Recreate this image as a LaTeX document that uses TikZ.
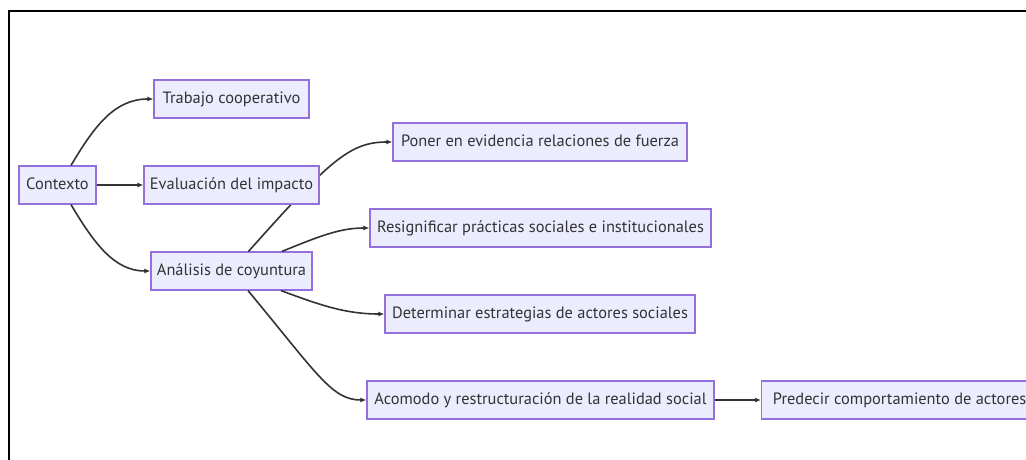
\documentclass[tikz,border=0pt]{standalone}
\usepackage{fontspec}
\setmainfont{PT Sans}
\usetikzlibrary{arrows.meta,calc}
\definecolor{nodefill}{HTML}{ECECFF}
\definecolor{nodeline}{HTML}{9370DB}
\definecolor{ink}{HTML}{333333}
\tikzset{
  box/.style={draw=nodeline, fill=nodefill, line width=1.2pt, text=ink,
    minimum height=38pt, inner sep=0pt, text height=11.5pt, text depth=3.5pt,
    font=\fontsize{16.4}{19}\selectfont},
  conn/.style={draw=ink, line width=1.6pt, -{Latex[length=6pt,width=5pt]}},
  frame/.style={draw=black, line width=2.2pt}
}
\begin{document}
\begin{tikzpicture}[x=1pt,y=-1pt]
\useasboundingbox (0,0) rectangle (1026,460);
\clip (0,0) rectangle (1026,460);
\fill[white] (0,0) rectangle (1026,460);
\draw[frame] (9,470) -- (9,11) -- (1030,11);
% nodes
\node[box, minimum width=77pt]  (ctx)   at (57.5,185) {Contexto};
\node[box, minimum width=155pt] (trab)  at (231.5,99) {Trabajo cooperativo};
\node[box, minimum width=175pt] (eval)  at (231.5,185) {Evaluación del impacto};
\node[box, minimum width=161pt] (ana)   at (231.5,271) {Análisis de coyuntura};
\node[box, minimum width=294pt] (poner) at (540,142)  {Poner en evidencia relaciones de fuerza};
\node[box, minimum width=341pt] (resig) at (540.5,228) {Resignificar prácticas sociales e institucionales};
\node[box, minimum width=310pt] (deter) at (540,314)  {Determinar estrategias de actores sociales};
\node[box, minimum width=347pt] (acom)  at (540.5,400) {Acomodo y restructuración de la realidad social};
\node[box, minimum width=276pt, anchor=west] (pred) at (761,400) {Predecir comportamiento de actores};
% connector from ana to poner runs behind eval, so eval is drawn again over it
\draw[conn] ($(ana.north)+(17,0)$) .. controls (330,160) and (350,142) .. (poner.west);
\node[box, minimum width=175pt] at (eval.center) {Evaluación del impacto};
% connectors
\draw[conn] ($(ctx.north)+(13.5,0)$) .. controls (95,125) and (115,99) .. (trab.west);
\draw[conn] (ctx.east) -- (eval.west);
\draw[conn] ($(ctx.south)+(13.5,0)$) .. controls (95,245) and (115,271) .. (ana.west);
\draw[conn] ($(ana.north)+(50.5,0)$) .. controls (320,236) and (340,228) .. (resig.west);
\draw[conn] ($(ana.south)+(49.5,0)$) .. controls (320,305) and (345,314) .. (deter.west);
\draw[conn] ($(ana.south)+(16.5,0)$) .. controls (318,375) and (332,400) .. (acom.west);
\draw[conn] (acom.east) -- (pred.west);
\end{tikzpicture}
\end{document}
